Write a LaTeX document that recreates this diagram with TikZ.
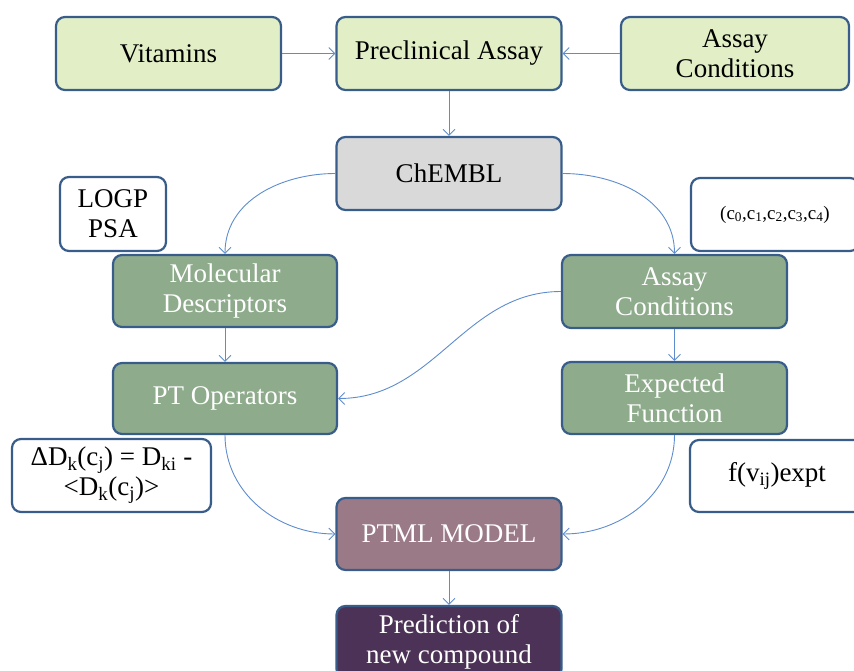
\documentclass[tikz,border=0pt]{standalone}
\usepackage{fontspec}
\setmainfont{Liberation Serif}
\usetikzlibrary{arrows.meta}
\definecolor{boxline}{RGB}{56,93,138}
\definecolor{lgreen}{RGB}{226,239,198}
\definecolor{lgray}{RGB}{217,217,217}
\definecolor{mgreen}{RGB}{142,171,140}
\definecolor{mauve}{RGB}{155,122,135}
\definecolor{dpurple}{RGB}{76,50,86}
\definecolor{arrowblue}{RGB}{94,140,204}
\begin{document}
\begin{tikzpicture}[x=1pt,y=1pt,
	box/.style={draw=boxline,line width=2.2pt,rounded corners=9pt,align=center,
		minimum width=225pt,minimum height=73pt,inner sep=2pt,
		font=\fontsize{27}{30}\selectfont},
	light/.style={box,fill=lgreen},
	data/.style={box,fill=lgray},
	stage/.style={box,fill=mgreen,text=white},
	note/.style={box,fill=white,minimum width=0pt},
	link/.style={draw=arrowblue,line width=0.9pt,-{Straight Barb[length=6pt,width=12pt]}}]
	\clip (0,0) rectangle (854,-671);
	\node[light] (vit) at (168.5,-53.5) {Vitamins};
	\node[light] (pre) at (449,-53.5) {Preclinical Assay};
	\node[light,minimum width=228pt] (acond) at (735,-53.5) {Assay\\Conditions};
	\node[data] (chembl) at (449,-173.5) {ChEMBL};
	\node[note,minimum width=106pt,minimum height=74pt] (logp) at (113,-214) {LOGP\\PSA};
	\node[note,minimum width=168pt,font=\fontsize{19}{22}\selectfont] (cvec) at (775,-214.5)
		{(c\textsubscript{0},c\textsubscript{1},c\textsubscript{2},c\textsubscript{3},c\textsubscript{4})};
	\node[stage,minimum width=224pt,minimum height=72pt] (mdesc) at (225,-291) {Molecular\\Descriptors};
	\node[stage] (acond2) at (674.5,-291.5) {Assay\\Conditions};
	\node[stage,minimum width=224pt,minimum height=71pt] (ptop) at (225,-398.5) {PT Operators};
	\node[stage,minimum height=72pt] (expf) at (674.5,-398) {Expected\\Function};
	\node[note,minimum width=199pt] (delta) at (111.5,-475.5)
		{ΔD\textsubscript{k}(c\textsubscript{j}) = D\textsubscript{ki} -\\<D\textsubscript{k}(c\textsubscript{j})>};
	\node[note,minimum width=174pt,minimum height=72pt] (fv) at (777,-476) {f(v\textsubscript{ij})expt};
	\node[box,fill=mauve,text=white,minimum height=72pt] (ptml) at (449,-534) {PTML MODEL};
	\node[box,fill=dpurple,text=white,minimum height=72pt] (pred) at (449,-642) {Prediction of\\new compound};
	\draw[link] (vit) -- (pre);
	\draw[link] (acond) -- (pre);
	\draw[link] (pre) -- (chembl);
	\draw[link] (chembl.west) to[out=180,in=90] (mdesc.north);
	\draw[link] (chembl.east) to[out=0,in=90] (acond2.north);
	\draw[link] (mdesc) -- (ptop);
	\draw[link] (acond2) -- (expf);
	\draw[link] (acond2.west) to[out=180,in=0] (ptop.east);
	\draw[link] (ptop.south) to[out=-90,in=180] (ptml.west);
	\draw[link] (expf.south) to[out=-90,in=0] (ptml.east);
	\draw[link] (ptml) -- (pred);
\end{tikzpicture}
\end{document}
